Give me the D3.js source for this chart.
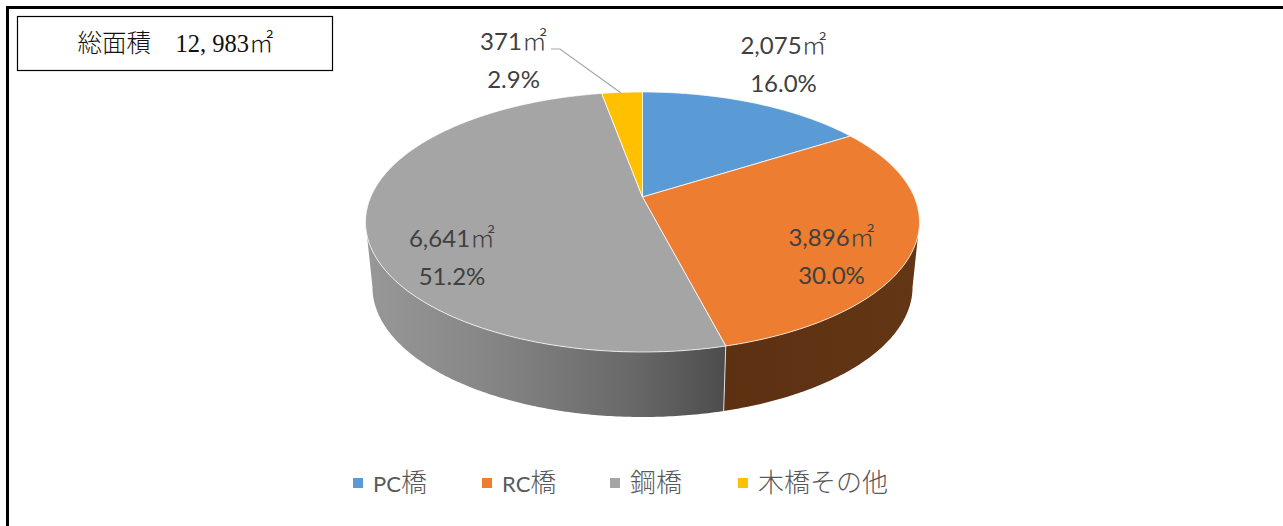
<!DOCTYPE html>
<html>
<head>
<meta charset="utf-8">
<script src="https://cdn.jsdelivr.net/npm/d3@7"></script>
<style>
html, body { margin: 0; padding: 0; background: #fff; overflow: hidden; }
svg { display: block; }
</style>
</head>
<body>
<div id="chart"></div>
<script>
// Values.
var categories = ["PC橋", "RC橋", "鋼橋", "木橋その他"];
var areas = [2075, 3896, 6641, 371];
var areaLabels = ["2,075㎡", "3,896㎡", "6,641㎡", "371㎡"];
var percentLabels = ["16.0%", "30.0%", "51.2%", "2.9%"];
var totalLabel = "総面積　12, 983㎡";

var colors = ["#5b9bd5", "#ed7d31", "#a5a5a5", "#ffc000"];

var width = 1283;
var height = 526;
var cjkFont = "'Noto Sans CJK JP', sans-serif";

var svg = d3.select("#chart").append("svg")
    .attr("width", width)
    .attr("height", height);

// Split a string into latin and CJK runs so each one gets its own font.
function addRuns(sel, str, latin, cjk) {
    str.match(/[\u3000-\u9fff]+|[^\u3000-\u9fff]+/g).forEach(function(run) {
        var isCjk = /[\u3000-\u9fff]/.test(run);
        var o = isCjk ? cjk : latin;
        sel.append("tspan")
            .attr("font-family", isCjk ? cjkFont : o.family)
            .attr("font-size", o.size)
            .attr("font-weight", o.weight)
            .text(run);
    });
}

// Outer frame, only left and top sides are in the crop.
svg.append("path")
    .attr("d", d3.line()([[7.5, height], [7.5, 7.5], [width, 7.5]]))
    .attr("fill", "none")
    .attr("stroke", "#000")
    .attr("stroke-width", 3);

// Total area box.
svg.append("rect")
    .attr("x", 17.5).attr("y", 16.5)
    .attr("width", 315).attr("height", 54)
    .attr("fill", "#fff")
    .attr("stroke", "#000")
    .attr("stroke-width", 1.2);
svg.append("text")
    .attr("x", 175.5).attr("y", 52)
    .attr("text-anchor", "middle")
    .attr("fill", "#111")
    .call(addRuns, totalLabel,
        { family: "'Liberation Serif', serif", size: 24.5, weight: 400 },
        { size: 24.5, weight: 300 });

// Perspective projection of the round pie onto the page.
var pieCx = 642.5, pieCy = 197;
var spreadX = 271.8, spreadY = 125.2, tilt = 0.1923;
var depth = 65, bottomScale = 0.975;

function project(angle, level) {
    var u = Math.sin(angle), v = Math.cos(angle);
    var w = 1 + tilt * v;
    var s = level ? bottomScale : 1;
    return [pieCx + s * spreadX * u / w,
            pieCy + (level ? depth : 0) - spreadY * v / w];
}

function arcPoints(a0, a1, level) {
    var n = Math.max(2, Math.ceil((a1 - a0) / 0.01));
    return d3.range(n + 1).map(function(i) {
        return project(a0 + (a1 - a0) * i / n, level);
    });
}

var pie = d3.pie().sort(null);
var arcs = pie(areas);
var line = d3.line();

// Gradients for the side wall.
var defs = svg.append("defs");
var sideGradients = [
    { id: "sideOrange", stops: [["0%", "#5c3010"], ["100%", "#633616"]] },
    { id: "sideGray", stops: [["0%", "#989898"], ["35%", "#858585"], ["75%", "#686868"], ["100%", "#4c4c4c"]] }
];
sideGradients.forEach(function(g) {
    var lg = defs.append("linearGradient").attr("id", g.id);
    g.stops.forEach(function(s) {
        lg.append("stop").attr("offset", s[0]).attr("stop-color", s[1]);
    });
});

// Side wall runs between the widest points of the top ellipse.
function wall(a0, a1) {
    var top = arcPoints(a0, a1, 0);
    var bottom = arcPoints(a0, a1, 1).reverse();
    return line(top.concat(bottom)) + "Z";
}
var rightEdge = Math.acos(-tilt), leftEdge = 2 * Math.PI - rightEdge;

svg.append("path")
    .attr("d", wall(rightEdge, arcs[1].endAngle))
    .attr("fill", "url(#sideOrange)");
svg.append("path")
    .attr("d", wall(arcs[1].endAngle, leftEdge))
    .attr("fill", "url(#sideGray)");

// Seam between the two walls.
svg.append("path")
    .attr("d", line([project(arcs[1].endAngle, 0), project(arcs[1].endAngle, 1)]))
    .attr("stroke", "#ddd")
    .attr("stroke-width", 1);

// Top faces.
svg.append("g").selectAll("path")
    .data(arcs)
    .enter()
    .append("path")
    .attr("d", function(d) {
        return line([[pieCx, pieCy]].concat(arcPoints(d.startAngle, d.endAngle, 0))) + "Z";
    })
    .attr("fill", function(d, i) { return colors[i]; })
    .attr("stroke", "#fff")
    .attr("stroke-opacity", 0.75)
    .attr("stroke-width", 1);

// Leader line for the small slice.
svg.append("path")
    .attr("d", line([[551, 49], [560, 49], [621, 93]]))
    .attr("fill", "none")
    .attr("stroke", "#a6a6a6")
    .attr("stroke-width", 1.2);

// Data labels, placed by hand like the original. [x, area baseline, percent baseline]
var labelSpots = [[783.5, 54, 92], [831.5, 246, 284], [452, 247, 285], [513.5, 50, 88]];
var labels = svg.append("g").selectAll("g")
    .data(areas)
    .enter()
    .append("g")
    .attr("fill", "#404040")
    .attr("text-anchor", "middle");
labels.append("text")
    .attr("x", function(d, i) { return labelSpots[i][0]; })
    .attr("y", function(d, i) { return labelSpots[i][1]; })
    .each(function(d, i) {
        addRuns(d3.select(this), areaLabels[i],
            { family: "Lato, sans-serif", size: 24, weight: 400 },
            { size: 25, weight: 300 });
    });
labels.append("text")
    .attr("x", function(d, i) { return labelSpots[i][0]; })
    .attr("y", function(d, i) { return labelSpots[i][2]; })
    .attr("font-family", "Lato, sans-serif")
    .attr("font-size", 24)
    .text(function(d, i) { return percentLabels[i]; });

// Legend.
var legendX = [353, 482, 610, 738];
var legend = svg.append("g").selectAll("g")
    .data(categories)
    .enter()
    .append("g")
    .attr("transform", function(d, i) { return "translate(" + legendX[i] + ",478)"; });
legend.append("rect")
    .attr("width", 10).attr("height", 10)
    .attr("fill", function(d, i) { return colors[i]; });
legend.append("text")
    .attr("x", 20).attr("y", 14)
    .attr("fill", "#595959")
    .each(function(d) {
        addRuns(d3.select(this), d,
            { family: "Lato, sans-serif", size: 22, weight: 400 },
            { size: 26, weight: 300 });
    });
</script>
</body>
</html>
